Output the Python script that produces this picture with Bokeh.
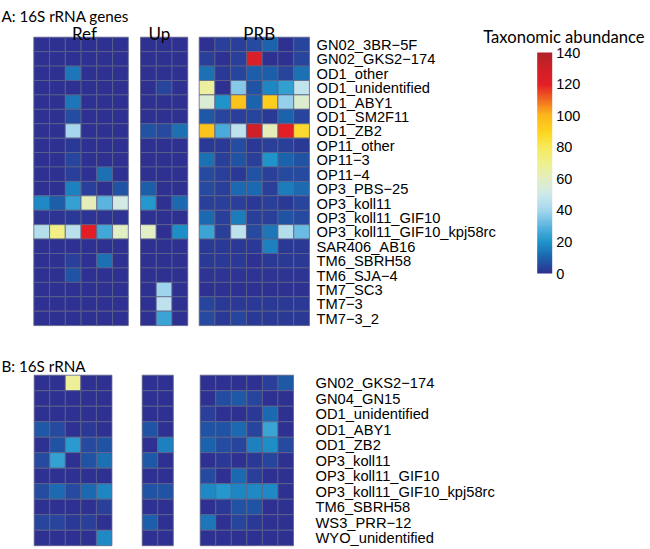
import numpy as np
from bokeh.plotting import figure
from bokeh.models import ColumnDataSource, LinearColorMapper, ColorBar, Range1d, FixedTicker
from bokeh.core.properties import value
from bokeh.embed import file_html
from bokeh.resources import INLINE

M = "\u2212"
rows_A = ["GN02_3BR" + M + "5F", "GN02_GKS2" + M + "174", "OD1_other", "OD1_unidentified",
          "OD1_ABY1", "OD1_SM2F11", "OD1_ZB2", "OP11_other", "OP11" + M + "3", "OP11" + M + "4",
          "OP3_PBS" + M + "25", "OP3_koll11", "OP3_koll11_GIF10", "OP3_koll11_GIF10_kpj58rc",
          "SAR406_AB16", "TM6_SBRH58", "TM6_SJA" + M + "4", "TM7_SC3", "TM7" + M + "3", "TM7" + M + "3_2"]
rows_B = ["GN02_GKS2" + M + "174", "GN04_GN15", "OD1_unidentified", "OD1_ABY1", "OD1_ZB2",
          "OP3_koll11", "OP3_koll11_GIF10", "OP3_koll11_GIF10_kpj58rc", "TM6_SBRH58",
          "WS3_PRR" + M + "12", "WYO_unidentified"]
group_names = ["Ref", "Up", "PRB"]

A_ref = [
    [0, 0, 0, 0, 0, 0], [0, 0, 0, 0, 0, 0], [0, 0, 14, 0, 0, 0], [0, 0, 0, 0, 0, 0],
    [0, 0, 14, 0, 0, 0], [0, 0, 6, 0, 0, 0], [0, 0, 40, 0, 0, 0], [0, 0, 2, 0, 0, 0],
    [0, 0, 4, 0, 0, 0], [0, 0, 3, 0, 13, 0], [0, 0, 16, 3, 0, 7], [18, 9, 24, 62, 30, 52],
    [1, 1, 2, 1, 1, 1], [44, 72, 45, 120, 26, 60], [0, 0, 0, 0, 0, 0], [0, 0, 3, 0, 13, 0],
    [0, 0, 7, 0, 0, 0], [0, 0, 0, 0, 0, 0], [0, 0, 0, 0, 0, 0], [0, 0, 0, 0, 0, 0],
]
A_up = [
    [0, 0, 0], [0, 0, 0], [0, 0, 0], [0, 4, 0], [0, 0, 0], [0, 0, 0], [7, 5, 13], [0, 0, 0],
    [0, 0, 0], [0, 0, 0], [9, 0, 0], [21, 0, 11], [0, 0, 0], [60, 0, 19], [0, 0, 0], [0, 0, 0],
    [0, 0, 0], [0, 39, 0], [0, 46, 0], [0, 25, 0],
]
A_prb = [
    [0, 3, 3, 5, 10, 0, 4], [3, 0, 3, 125, 0, 0, 4], [13, 2, 4, 9, 9, 4, 13],
    [67, 0, 36, 7, 17, 23, 47], [56, 20, 96, 10, 92, 38, 57], [8, 4, 3, 4, 2, 10, 4],
    [96, 27, 46, 130, 62, 120, 87], [2, 2, 6, 2, 3, 3, 2], [13, 3, 7, 3, 20, 10, 7],
    [5, 3, 2, 7, 3, 5, 5], [5, 3, 11, 11, 3, 15, 12], [3, 3, 3, 2, 3, 2, 4],
    [11, 3, 15, 3, 3, 7, 5], [25, 3, 46, 5, 14, 44, 32], [2, 2, 2, 2, 16, 2, 2],
    [2, 2, 2, 0, 2, 2, 2], [1, 1, 1, 1, 1, 1, 1], [0, 0, 0, 0, 0, 0, 0],
    [4, 2, 2, 2, 2, 2, 2], [5, 2, 4, 2, 2, 2, 2],
]
B_ref = [
    [0, 0, 68, 0, 0], [0, 0, 0, 0, 0], [0, 0, 0, 0, 0], [8, 5, 0, 2, 0], [0, 7, 22, 5, 7],
    [5, 24, 0, 7, 13], [0, 0, 0, 0, 0], [6, 12, 5, 11, 17], [0, 0, 0, 0, 3], [4, 4, 2, 3, 0],
    [0, 0, 0, 0, 18],
]
B_up = [[0, 0], [0, 0], [0, 0], [7, 0], [0, 16], [8, 0], [0, 0], [7, 7], [0, 0], [9, 0], [0, 0]]
B_prb = [
    [0, 0, 0, 0, 3, 8], [0, 6, 8, 4, 0, 0], [3, 0, 0, 2, 11, 0], [7, 7, 11, 4, 25, 0],
    [10, 6, 4, 16, 19, 5], [0, 2, 0, 2, 4, 0], [5, 0, 11, 3, 0, 0], [18, 21, 17, 18, 18, 0],
    [0, 2, 7, 7, 0, 0], [14, 0, 4, 2, 0, 0], [0, 0, 0, 0, 0, 0],
]
cbar_ticks = [0, 20, 40, 60, 80, 100, 120, 140]

# ---- colour map ----
anchors = [(0, "#2e3192"), (10, "#1b64ad"), (20, "#1f95cb"), (30, "#5cb5e0"), (40, "#a6d7ee"),
           (50, "#cde9ec"), (60, "#e2eec2"), (70, "#eff08f"), (80, "#f7ea5a"), (90, "#fed41f"),
           (100, "#fbb81b"), (105, "#f7951e"), (110, "#f26b22"), (120, "#e41e26"),
           (130, "#cf2027"), (140, "#b0222a")]
av = np.array([a[0] for a in anchors], float)
ac = np.array([[int(c[i:i + 2], 16) for i in (1, 3, 5)] for _, c in anchors], float)
vals = np.linspace(0, 140, 256)
palette = ["#%02x%02x%02x" % tuple(int(round(np.interp(v, av, ac[:, k]))) for k in range(3)) for v in vals]
mapper = LinearColorMapper(palette=palette, low=0, high=140)

W, H = 650, 549
p = figure(width=W, height=H, x_range=Range1d(0, W), y_range=Range1d(H, 0),
           x_axis_type=None, y_axis_type=None, toolbar_location=None,
           output_backend="svg", min_border=0)
p.grid.visible = False
p.outline_line_color = None

def add_panel(groups, x0s, cw, y0, rh):
    xs, ys, vs = [], [], []
    for data, gx in zip(groups, x0s):
        for r, row in enumerate(data):
            for c, v in enumerate(row):
                xs.append(gx + (c + 0.5) * cw)
                ys.append(y0 + (r + 0.5) * rh)
                vs.append(v)
    src = ColumnDataSource(dict(x=xs, y=ys, v=vs))
    p.rect(x="x", y="y", width=cw, height=rh, source=src,
           fill_color={"field": "v", "transform": mapper},
           line_color="#5d6288", line_width=0.8)

# Panel A
cwA, rhA, y0A = 15.75, 14.42, 36.7
xA = [33.3, 140.0, 198.7]
add_panel([A_ref, A_up, A_prb], xA, cwA, y0A, rhA)
# Panel B
cwB, rhB, y0B = 15.55, 15.5, 374.7
xB = [33.7, 141.7, 199.7]
add_panel([B_ref, B_up, B_prb], xB, cwB, y0B, rhB)

lab_font = value("Liberation Sans")
head_font = value("Lato")

srcA = ColumnDataSource(dict(x=[316] * len(rows_A), y=[y0A + (i + 0.5) * rhA + 0.5 for i in range(len(rows_A))], t=rows_A))
p.text(x="x", y="y", text="t", source=srcA, text_font=lab_font, text_font_size="14.7px",
       text_baseline="middle", text_align="left", text_color="black")
srcB = ColumnDataSource(dict(x=[315] * len(rows_B), y=[y0B + (i + 0.5) * rhB + 0.5 for i in range(len(rows_B))], t=rows_B))
p.text(x="x", y="y", text="t", source=srcB, text_font=lab_font, text_font_size="14.7px",
       text_baseline="middle", text_align="left", text_color="black")

# group headers for panel A
gsrc = ColumnDataSource(dict(x=[84, 159, 258.7], y=[33.3, 33.3, 33.3], t=group_names))
p.text(x="x", y="y", text="t", source=gsrc, text_font=head_font, text_font_size="17px",
       text_baseline="alphabetic", text_align="center", text_color="black")

p.text(x=[1], y=[15.5], text=["A: 16S rRNA genes"], text_font=head_font, text_font_size="15.2px",
       text_baseline="alphabetic", text_align="left", text_color="black")
p.text(x=[1], y=[365], text=["B: 16S rRNA"], text_font=head_font, text_font_size="15.2px",
       text_baseline="alphabetic", text_align="left", text_color="black")
p.text(x=[644], y=[36.7], text=["Taxonomic abundance"], text_font=head_font, text_font_size="16.6px",
       text_baseline="alphabetic", text_align="right", text_color="black")

cb = ColorBar(color_mapper=mapper, location=(536.7, H - 273), width=15, height=221, padding=0,
              ticker=FixedTicker(ticks=cbar_ticks), major_tick_line_color=None,
              minor_tick_line_color=None, bar_line_color=None,
              major_label_text_font="Liberation Sans", major_label_text_font_size="14.5px",
              major_label_text_color="black", label_standoff=4,
              background_fill_alpha=0, border_line_color=None)
p.add_layout(cb)

open("out.html", "w").write(file_html(p, INLINE))
